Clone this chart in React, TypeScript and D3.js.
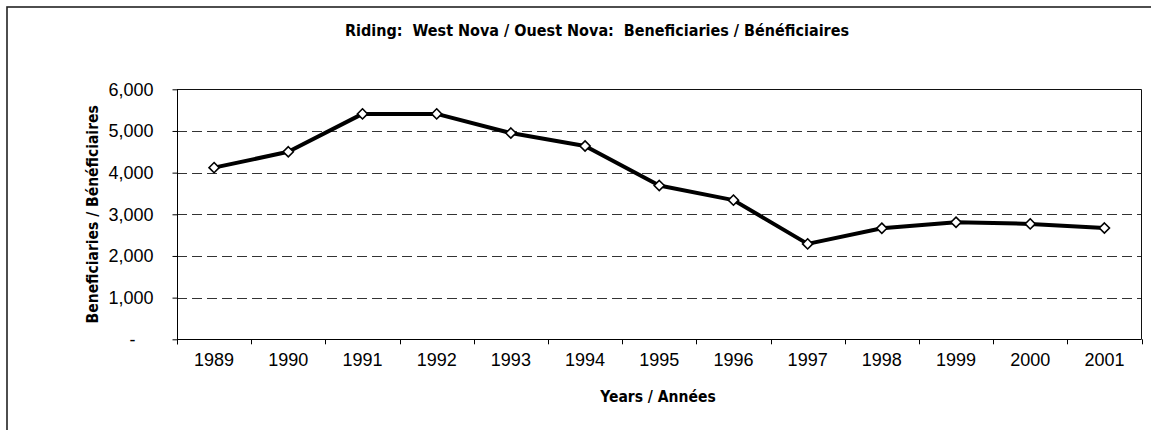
import React, { useEffect, useRef } from "react";
import * as d3 from "d3";

const years = ["1989", "1990", "1991", "1992", "1993", "1994", "1995", "1996", "1997", "1998", "1999", "2000", "2001"];
const beneficiaries = [4120, 4500, 5410, 5410, 4950, 4640, 3690, 3340, 2290, 2665, 2810, 2770, 2670];
const yTicks = [0, 1000, 2000, 3000, 4000, 5000, 6000];

const titleText = "Riding:  West Nova / Ouest Nova:  Beneficiaries / Bénéficiaires";
const xTitle = "Years / Années";
const yTitle = "Beneficiaries / Bénéficiaires";

const narrow = "'Liberation Sans Narrow', 'Arial Narrow', 'DejaVu Sans Condensed', sans-serif";
const regular = "'Liberation Sans', Arial, sans-serif";

export default function App() {
  const ref = useRef<SVGSVGElement>(null);

  useEffect(() => {
    const svg = d3.select(ref.current);
    svg.selectAll("*").remove();

    // plot area
    const margin = { left: 177, right: 1141.5, top: 89.3, bottom: 339.3 };

    const x = d3.scaleBand().domain(years).range([margin.left, margin.right]).padding(0);
    const y = d3.scaleLinear().domain([0, 6000]).range([margin.bottom, margin.top]);

    // outer chart border (right / bottom fall outside the picture)
    svg.append("rect")
      .attr("x", 7).attr("y", 7)
      .attr("width", 1300).attr("height", 500)
      .attr("fill", "#fff")
      .attr("stroke", "#222")
      .attr("stroke-width", 1.6);

    // gridlines
    svg.append("g")
      .selectAll("line")
      .data(yTicks.filter(d => d > 0 && d < 6000))
      .enter()
      .append("line")
      .attr("x1", margin.left).attr("x2", margin.right)
      .attr("y1", d => Math.round(y(d)) + 0.5).attr("y2", d => Math.round(y(d)) + 0.5)
      .attr("stroke", "#333")
      .attr("stroke-dasharray", "10,5");

    // plot border top / right
    svg.append("path")
      .attr("d", `M${margin.left},${Math.round(margin.top) + 0.5}H${margin.right}V${margin.bottom}`)
      .attr("fill", "none")
      .attr("stroke", "#111");

    // y axis
    const yAxis = svg.append("g")
      .attr("transform", `translate(${Math.round(margin.left) + 0.5},0)`)
      .call(d3.axisLeft(y).tickValues(yTicks).tickSize(5).tickPadding(19)
        .tickFormat(d => (+d === 0 ? "-" : d3.format(",")(+d))));
    yAxis.select(".domain").attr("stroke", "#000").attr("d", `M0,${margin.top}V${margin.bottom + 5}`);
    yAxis.selectAll(".tick line").attr("stroke", "#000");
    yAxis.selectAll("text")
      .attr("font-family", regular)
      .attr("font-size", 18)
      .attr("fill", "#000")
      .attr("x", (d: any) => (+d === 0 ? -42 : -24));

    // x axis
    const xAxis = svg.append("g")
      .attr("transform", `translate(0,${Math.round(margin.bottom) + 0.5})`)
      .call(d3.axisBottom(x).tickSize(0).tickPadding(14));
    xAxis.select(".domain").attr("stroke", "#000").attr("d", `M${margin.left},0H${margin.right}`);
    xAxis.selectAll("text")
      .attr("font-family", regular)
      .attr("font-size", 18)
      .attr("fill", "#000");

    // x ticks at category boundaries
    const bounds = years.map(d => x(d) as number).concat([margin.right]);
    svg.append("g")
      .selectAll("line")
      .data(bounds)
      .enter()
      .append("line")
      .attr("x1", d => Math.round(d) + 0.5).attr("x2", d => Math.round(d) + 0.5)
      .attr("y1", margin.bottom).attr("y2", margin.bottom + 5)
      .attr("stroke", "#000");

    // series line
    const line = d3.line<number>()
      .x((d, i) => (x(years[i]) as number) + x.bandwidth() / 2)
      .y(d => y(d));
    svg.append("path")
      .datum(beneficiaries)
      .attr("d", line)
      .attr("fill", "none")
      .attr("stroke", "#000")
      .attr("stroke-width", 4)
      .attr("stroke-linejoin", "round");

    // diamond markers
    const diamond = d3.symbol().type(d3.symbolDiamond2).size(66);
    svg.append("g")
      .selectAll("path")
      .data(beneficiaries)
      .enter()
      .append("path")
      .attr("d", diamond)
      .attr("transform", (d, i) => `translate(${(x(years[i]) as number) + x.bandwidth() / 2},${y(d)})`)
      .attr("fill", "#fff")
      .attr("stroke", "#000")
      .attr("stroke-width", 1.6);

    // titles
    svg.append("text")
      .attr("x", 597).attr("y", 36)
      .attr("text-anchor", "middle")
      .attr("font-family", narrow)
      .attr("font-weight", "bold")
      .attr("font-size", 16)
      .style("white-space", "pre")
      .text(titleText);

    svg.append("text")
      .attr("x", 658).attr("y", 402)
      .attr("text-anchor", "middle")
      .attr("font-family", narrow)
      .attr("font-weight", "bold")
      .attr("font-size", 15.5)
      .text(xTitle);

    svg.append("text")
      .attr("transform", `translate(98,${(margin.top + margin.bottom) / 2}) rotate(-90)`)
      .attr("text-anchor", "middle")
      .attr("font-family", narrow)
      .attr("font-weight", "bold")
      .attr("font-size", 15.5)
      .text(yTitle);
  }, []);

  return (
    <svg
      ref={ref}
      width={1151}
      height={430}
      style={{ position: "absolute", left: 0, top: 0, background: "#fff" }}
    />
  );
}
